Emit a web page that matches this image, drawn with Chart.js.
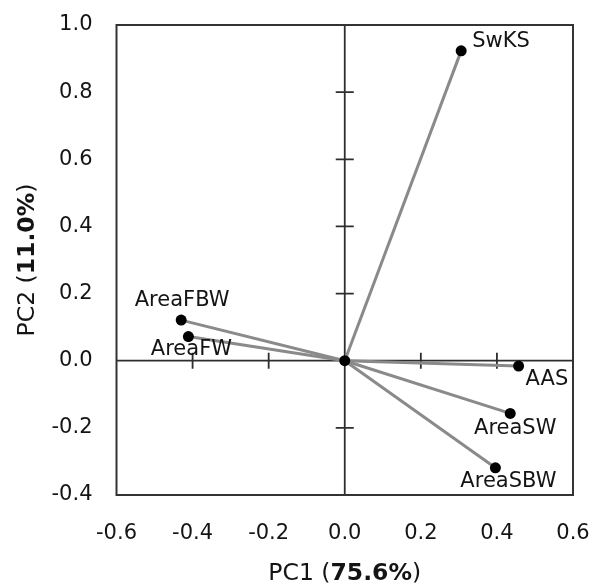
<!DOCTYPE html>
<html>
<head>
<meta charset="utf-8">
<script src="https://cdn.jsdelivr.net/npm/chart.js@4"></script>
<style>
html,body{margin:0;padding:0;background:#fff;}
#c{display:block;}
</style>
</head>
<body>
<canvas id="c" width="591" height="587"></canvas>
<script>
// ---- data ----
const variables = ['SwKS', 'AreaFBW', 'AreaFW', 'AAS', 'AreaSW', 'AreaSBW'];
const pc1 = [0.306, -0.430, -0.411, 0.457, 0.435, 0.396];
const pc2 = [0.923, 0.121, 0.072, -0.016, -0.157, -0.319];
const xTickValues = [-0.6, -0.4, -0.2, 0.0, 0.2, 0.4, 0.6];
const yTickValues = [-0.4, -0.2, 0.0, 0.2, 0.4, 0.6, 0.8, 1.0];
const xTitleParts = ['PC1 (', '75.6%', ')'];
const yTitleParts = ['PC2 (', '11.0%', ')'];

// ---- label placement (style only) ----
const labelPlacement = {
  SwKS:    {dx: 11, dy: -9, align: 'left'},
  AreaFBW: {dx: 1,  dy: -20, align: 'center'},
  AreaFW:  {dx: 3,  dy: 13, align: 'center'},
  AAS:     {dx: 7,  dy: 13, align: 'left'},
  AreaSW:  {dx: 5,  dy: 15, align: 'center'},
  AreaSBW: {dx: 13, dy: 14, align: 'center'}
};

const FONT = '"DejaVu Sans", sans-serif';
const TEXT = '#141414';
const fmt = v => { const r = Math.round(v * 10) / 10; return (Object.is(r, -0) ? 0 : r).toFixed(1); };

const datasets = variables.map((name, i) => ({
  label: name,
  data: [{x: 0, y: 0}, {x: pc1[i], y: pc2[i]}],
  showLine: true,
  borderColor: '#8a8a8a',
  borderWidth: 3,
  pointRadius: [0, 5.5],
  pointHoverRadius: [0, 5.5],
  pointBackgroundColor: '#000',
  pointBorderWidth: 0,
  order: 1
}));
datasets.push({
  label: 'origin',
  data: [{x: 0, y: 0}],
  pointRadius: 5.5,
  pointBackgroundColor: '#000',
  pointBorderWidth: 0,
  showLine: false,
  order: 0
});

const axesPlugin = {
  id: 'centerAxes',
  beforeDatasetsDraw(chart) {
    const {ctx, chartArea: a, scales: {x, y}} = chart;
    const x0 = x.getPixelForValue(0), y0 = y.getPixelForValue(0);
    ctx.save();
    ctx.strokeStyle = '#2e2e2e';
    ctx.lineWidth = 1.8;
    ctx.beginPath();
    ctx.moveTo(x0, a.top); ctx.lineTo(x0, a.bottom);
    ctx.moveTo(a.left, y0); ctx.lineTo(a.right, y0);
    yTickValues.forEach(v => {
      if (v === 0 || v === yTickValues[0] || v === yTickValues[yTickValues.length - 1]) return;
      const py = y.getPixelForValue(v);
      ctx.moveTo(x0 - 9, py); ctx.lineTo(x0 + 9, py);
    });
    xTickValues.forEach(v => {
      if (v === 0 || v === xTickValues[0] || v === xTickValues[xTickValues.length - 1]) return;
      const px = x.getPixelForValue(v);
      ctx.moveTo(px, y0 - 8); ctx.lineTo(px, y0 + 8);
    });
    ctx.stroke();
    ctx.lineWidth = 2;
    ctx.strokeStyle = '#333';
    ctx.strokeRect(a.left, a.top, a.right - a.left, a.bottom - a.top);
    ctx.restore();
  },
  afterDatasetsDraw(chart) {
    const {ctx, chartArea: a, scales: {x, y}} = chart;
    ctx.save();
    ctx.fillStyle = TEXT;
    ctx.font = '21px ' + FONT;
    ctx.textBaseline = 'middle';
    variables.forEach((name, i) => {
      const p = labelPlacement[name];
      ctx.textAlign = p.align;
      ctx.fillText(name, x.getPixelForValue(pc1[i]) + p.dx, y.getPixelForValue(pc2[i]) + p.dy);
    });
    // axis titles with bold percentages
    const drawParts = (parts, cx, cy) => {
      const fonts = ['23.5px ' + FONT, 'bold 23.5px ' + FONT, '23.5px ' + FONT];
      const widths = parts.map((t, k) => { ctx.font = fonts[k]; return ctx.measureText(t).width; });
      const total = widths.reduce((s, w) => s + w, 0);
      let sx = cx - total / 2;
      ctx.textAlign = 'left';
      parts.forEach((t, k) => { ctx.font = fonts[k]; ctx.fillText(t, sx, cy); sx += widths[k]; });
    };
    drawParts(xTitleParts, (a.left + a.right) / 2, 574);
    ctx.translate(27.5, (a.top + a.bottom) / 2);
    ctx.rotate(-Math.PI / 2);
    drawParts(yTitleParts, 0, 0);
    ctx.restore();
  }
};

new Chart(document.getElementById('c'), {
  type: 'scatter',
  data: {datasets},
  options: {
    responsive: false,
    animation: false,
    devicePixelRatio: 1,
    layout: {padding: {top: 25, right: 18, left: 0, bottom: 0}},
    plugins: {legend: {display: false}, tooltip: {enabled: false}},
    scales: {
      x: {
        type: 'linear', min: -0.6, max: 0.6,
        afterBuildTicks: s => { s.ticks = xTickValues.map(v => ({value: v})); },
        afterFit: s => { s.height = 92; s.paddingLeft = 0; s.paddingRight = 0; },
        ticks: {callback: v => fmt(v), padding: 26, color: TEXT, font: {family: FONT, size: 21}, maxRotation: 0},
        grid: {display: false, drawTicks: false},
        border: {display: false}
      },
      y: {
        type: 'linear', min: -0.4, max: 1.0,
        afterBuildTicks: s => { s.ticks = yTickValues.map(v => ({value: v})); },
        afterFit: s => { s.width = 116.5; s.paddingTop = 0; s.paddingBottom = 0; },
        ticks: {callback: v => fmt(v), padding: 24, color: TEXT, font: {family: FONT, size: 21}},
        grid: {display: false, drawTicks: false},
        border: {display: false}
      }
    }
  },
  plugins: [axesPlugin]
});
</script>
</body>
</html>
